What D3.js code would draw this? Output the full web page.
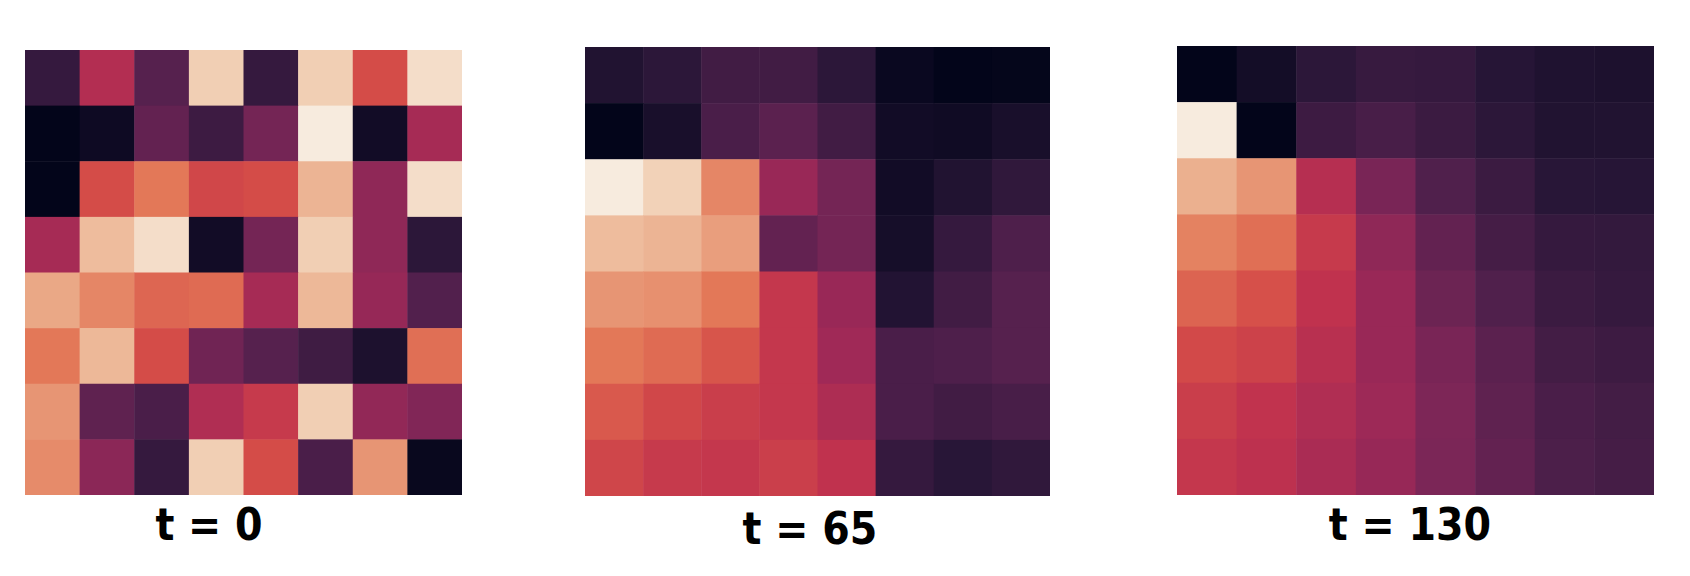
<!DOCTYPE html>
<html lang="en">
  <head>
    <meta charset="utf-8">
    <title>Heat diffusion snapshots</title>
    <style>
      body { margin: 0; background: #fff; }
    </style>
  </head>
  <body>
    <svg width="1690" height="576"></svg>
    <script src="https://cdn.jsdelivr.net/npm/d3@7"></script>
    <script>
      // snapshot labels
      const times = [0, 65, 130];

      // cell values (0..1 on the colour map), row by row
      const grid_t0 = [
        [0.13, 0.46, 0.21, 0.90, 0.13, 0.90, 0.60, 0.95],
        [0.00, 0.03, 0.24, 0.15, 0.28, 1.00, 0.04, 0.42],
        [0.00, 0.60, 0.70, 0.58, 0.60, 0.83, 0.35, 0.95],
        [0.42, 0.85, 0.95, 0.04, 0.28, 0.90, 0.35, 0.11],
        [0.80, 0.73, 0.66, 0.67, 0.42, 0.84, 0.37, 0.20],
        [0.70, 0.84, 0.60, 0.27, 0.21, 0.155, 0.07, 0.68],
        [0.76, 0.23, 0.18, 0.45, 0.53, 0.90, 0.36, 0.31],
        [0.74, 0.34, 0.13, 0.90, 0.60, 0.18, 0.76, 0.015]
      ];
      const grid_t65 = [
        [0.08, 0.11, 0.16, 0.16, 0.11, 0.02, 0.00, 0.005],
        [0.00, 0.06, 0.18, 0.22, 0.16, 0.04, 0.035, 0.06],
        [1.00, 0.91, 0.73, 0.38, 0.28, 0.04, 0.08, 0.12],
        [0.85, 0.83, 0.78, 0.24, 0.28, 0.05, 0.13, 0.19],
        [0.76, 0.75, 0.70, 0.52, 0.38, 0.085, 0.16, 0.21],
        [0.70, 0.67, 0.62, 0.52, 0.40, 0.18, 0.19, 0.21],
        [0.63, 0.58, 0.545, 0.52, 0.44, 0.18, 0.16, 0.175],
        [0.575, 0.53, 0.52, 0.55, 0.50, 0.13, 0.10, 0.12]
      ];
      const grid_t130 = [
        [0.00, 0.045, 0.11, 0.135, 0.13, 0.095, 0.075, 0.07],
        [1.00, 0.00, 0.15, 0.175, 0.145, 0.11, 0.08, 0.08],
        [0.82, 0.76, 0.47, 0.29, 0.195, 0.145, 0.10, 0.095],
        [0.72, 0.68, 0.53, 0.35, 0.24, 0.17, 0.13, 0.125],
        [0.655, 0.61, 0.50, 0.38, 0.26, 0.195, 0.145, 0.13],
        [0.59, 0.56, 0.475, 0.38, 0.29, 0.22, 0.165, 0.15],
        [0.545, 0.505, 0.45, 0.39, 0.30, 0.23, 0.18, 0.165],
        [0.52, 0.49, 0.43, 0.375, 0.295, 0.24, 0.185, 0.17]
      ];
      const grids = [grid_t0, grid_t65, grid_t130];

      // rocket-like colour map, evenly spaced stops
      const rocket_stops = [
        '#03051a', '#281637', '#52204d', '#7d2657', '#a02957', '#c0324e',
        '#d44c48', '#e37858', '#eaa886', '#f1cfb4', '#f7ebde'
      ];
      const color = d3.scaleSequential(d3.piecewise(d3.interpolateRgb, rocket_stops))
        .domain([0, 1]);

      // panel layout in pixels
      const panels = [
        {x0: 25, x1: 462, y0: 50, y1: 495, label_x: 209, label_y: 540},
        {x0: 585, x1: 1050, y0: 47, y1: 496, label_x: 810, label_y: 544},
        {x0: 1177, x1: 1654, y0: 46, y1: 495, label_x: 1410, label_y: 540}
      ];

      const svg = d3.select('svg');
      const idx = d3.range(8);

      panels.forEach((p, k) => {
        const x_scale = d3.scaleBand().domain(idx).range([p.x0, p.x1]);
        const y_scale = d3.scaleBand().domain(idx).range([p.y0, p.y1]);

        const cells = [];
        grids[k].forEach((row, r) => {
          row.forEach((v, c) => cells.push({r: r, c: c, v: v}));
        });

        const g = svg.append('g').attr('class', 'panel');
        g.selectAll('rect')
          .data(cells).enter()
          .append('rect')
            .attr('x', d => x_scale(d.c))
            .attr('y', d => y_scale(d.r))
            .attr('width', d => d.c < 7 ? x_scale.bandwidth() + 0.5 : x_scale.bandwidth())
            .attr('height', d => d.r < 7 ? y_scale.bandwidth() + 0.5 : y_scale.bandwidth())
            .attr('fill', d => color(d.v));

        // label, slightly condensed like the original
        svg.append('text')
          .text(`t = ${times[k]}`)
          .attr('transform', `translate(${p.label_x},${p.label_y}) scale(0.9,1)`)
          .attr('font-family', 'DejaVu Sans')
          .attr('font-weight', 'bold')
          .attr('font-size', '44px')
          .attr('fill', '#000')
          .style('text-anchor', 'middle');
      });
    </script>
  </body>
</html>
